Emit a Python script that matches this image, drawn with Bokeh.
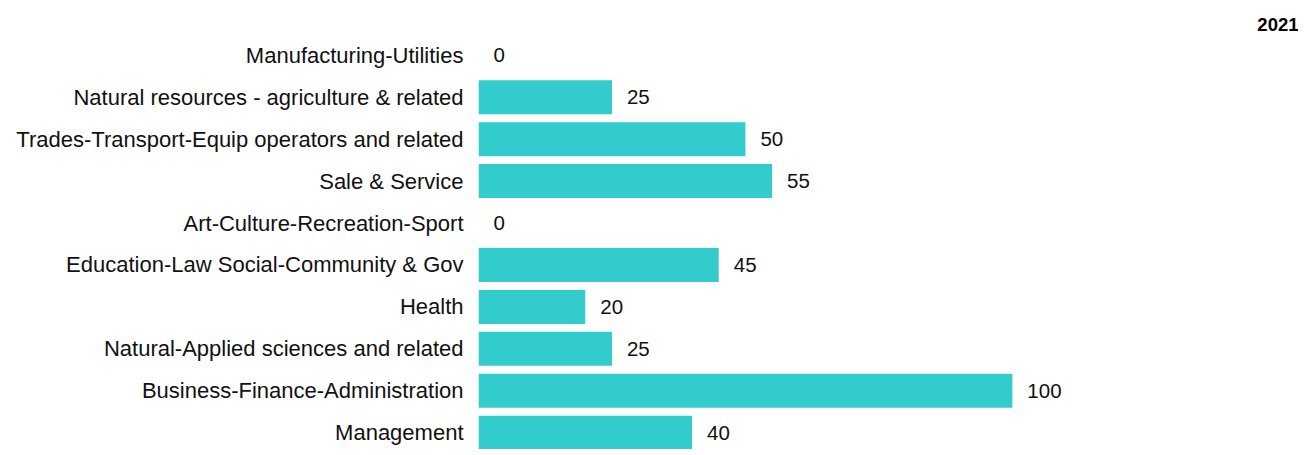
from bokeh.plotting import figure
from bokeh.models import ColumnDataSource, FactorRange, Range1d
from bokeh.core.properties import value
from bokeh.embed import file_html
from bokeh.resources import INLINE

categories = [
    "Manufacturing-Utilities",
    "Natural resources - agriculture & related",
    "Trades-Transport-Equip operators and related",
    "Sale & Service",
    "Art-Culture-Recreation-Sport",
    "Education-Law Social-Community & Gov",
    "Health",
    "Natural-Applied sciences and related",
    "Business-Finance-Administration",
    "Management",
]
values = [0, 25, 50, 55, 0, 45, 20, 25, 100, 40]
title_text = "2021"

FONT = "Liberation Sans"

src = ColumnDataSource(dict(cat=categories, val=values, lbl=[str(v) for v in values]))

p = figure(
    width=1298, height=449,
    y_range=FactorRange(*list(reversed(categories)), range_padding=-0.1, range_padding_units="absolute"),
    x_range=Range1d(0, 153.6),
    output_backend="svg", toolbar_location=None,
    x_axis_location=None,
    min_border_left=478, min_border_right=0, min_border_bottom=0, min_border_top=38,
)
p.title.text = title_text
p.title.align = "right"
p.title.offset = 0
p.title.standoff = 16
p.title.text_font = FONT
p.title.text_font_size = "18.5px"
p.title.text_font_style = "bold"
p.title.text_color = "#000000"

p.hbar(y="cat", right="val", left=0, height=0.81, source=src, color="#33CCCC", line_color=None)
p.text(x="val", y="cat", text="lbl", source=src, x_offset=15,
       text_align="left", text_baseline="middle",
       text_font=value(FONT), text_font_size="20.5px", text_color="#111111")

ax = p.yaxis[0]
ax.axis_line_color = None
ax.major_tick_line_color = None
ax.minor_tick_line_color = None
ax.major_tick_out = 0
ax.major_tick_in = 0
ax.major_label_standoff = 15
ax.major_label_text_font = FONT
ax.major_label_text_font_size = "22px"
ax.major_label_text_color = "#111111"

p.xgrid.visible = False
p.ygrid.visible = False
p.outline_line_color = None

open("out.html", "w").write(file_html(p, INLINE))
